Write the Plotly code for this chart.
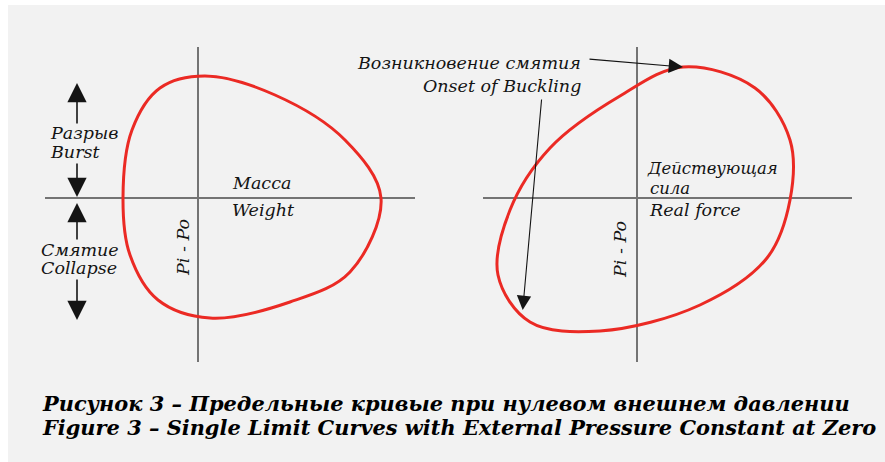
import plotly.graph_objects as go

# Limit curve, left panel: Pi - Po versus weight (closed loop, clockwise from the left side)
weight_x = [-0.75, -0.66, -0.38, 0.07, 0.77, 1.47, 1.83, 1.52, 0.92, 0.12, -0.40, -0.68]
weight_p = [0.00, 0.68, 1.10, 1.22, 1.03, 0.58, 0.00, -0.74, -1.04, -1.20, -1.02, -0.57]

# Limit curve, right panel: Pi - Po versus real (effective) force
force_x = [-0.87, -0.17, 0.46, 1.18, 1.53, 1.53, 1.30, 0.63, -0.37, -1.07, -1.39, -1.27]
force_p = [0.50, 1.02, 1.31, 1.10, 0.58, -0.02, -0.60, -1.07, -1.33, -1.24, -0.77, -0.12]
ONSET = 2  # index of the point where buckling begins

# Extent of the drawn coordinate cross in each panel
left_h = [-1.53, 2.17]
right_h = [-1.54, 2.15]
cross_v = [1.51, -1.64]

caption_ru = "Рисунок 3 – Предельные кривые при нулевом внешнем давлении"
caption_en = "Figure 3 – Single Limit Curves with External Pressure Constant at Zero"

RED = "#eb2a24"
AXIS = "#747474"
INK = "#141414"
SERIF = "DejaVu Serif"

fig = go.Figure()


def loop(seq):
    # close the loop back onto its first point
    seq = list(seq)
    return seq + seq[:1]


for xa, ya, hx, cx, cy in [("x", "y", left_h, weight_x, weight_p),
                           ("x2", "y2", right_h, force_x, force_p)]:
    fig.add_trace(go.Scatter(x=hx, y=[0, 0], mode="lines", xaxis=xa, yaxis=ya,
                             line=dict(color=AXIS, width=2), hoverinfo="skip"))
    fig.add_trace(go.Scatter(x=[0, 0], y=cross_v, mode="lines", xaxis=xa, yaxis=ya,
                             line=dict(color=AXIS, width=2), hoverinfo="skip"))
    fig.add_trace(go.Scatter(x=loop(cx), y=loop(cy), mode="lines", xaxis=xa, yaxis=ya,
                             line=dict(color=RED, width=3, shape="spline", smoothing=1.0),
                             hoverinfo="skip"))


def label(text, x, y, xref, yref, xanchor="left", angle=0, size=17.5):
    fig.add_annotation(text=text, x=x, y=y, xref=xref, yref=yref, showarrow=False,
                       xanchor=xanchor, yanchor="middle", textangle=angle,
                       font=dict(family=SERIF, size=size, color=INK, style="italic"))


def arrow(x0, y0, x1, y1, xref, yref, width=1.6, size=2.4):
    fig.add_annotation(text="", x=x1, y=y1, ax=x0, ay=y0, xref=xref, yref=yref,
                       axref=xref, ayref=yref, showarrow=True, arrowhead=2,
                       arrowsize=size, arrowwidth=width, arrowcolor=INK)


# Left panel labels and the burst / collapse arrows
label("Разрыв", -1.50, 0.65, "x", "y")
label("Burst", -1.50, 0.46, "x", "y")
label("Смятие", -1.59, -0.52, "x", "y")
label("Collapse", -1.59, -0.70, "x", "y")
label("Масса", 0.32, 0.15, "x", "y")
label("Weight", 0.32, -0.12, "x", "y")
label("Pi - Po", -0.15, -0.50, "x", "y", xanchor="center", angle=-90)
arrow(-1.21, 0.73, -1.21, 1.15, "x", "y")
arrow(-1.21, 0.36, -1.21, 0.01, "x", "y")
arrow(-1.21, -0.43, -1.21, -0.05, "x", "y")
arrow(-1.21, -0.80, -1.21, -1.22, "x", "y")

# Right panel labels and onset-of-buckling pointers
label("Действующая", 0.08, 0.30, "x2", "y2", size=16.5)
label("сила", 0.11, 0.10, "x2", "y2", size=16.5)
label("Real force", 0.10, -0.12, "x2", "y2")
label("Pi - Po", -0.17, -0.52, "x2", "y2", xanchor="center", angle=-90)
label("Возникновение смятия", -0.54, 1.35, "x2", "y2", xanchor="right")
label("Onset of Buckling", -0.54, 1.12, "x2", "y2", xanchor="right")
arrow(-0.49, 1.39, force_x[ONSET], force_p[ONSET], "x2", "y2", width=1.1, size=2.6)
arrow(-0.953, 1.00, -1.143, -1.12, "x2", "y2", width=1.1, size=2.6)

# Two-line caption
cap_font = dict(family=SERIF, size=20.9, color="#000000", style="italic", weight="bold")
for text, py in [(caption_ru, 403), (caption_en, 427)]:
    fig.add_annotation(text=text, x=40 / 885, y=1 - py / 462, xref="paper", yref="paper",
                       xanchor="left", yanchor="middle", showarrow=False, font=cap_font)

# Light grey backdrop
fig.add_shape(type="rect", xref="paper", yref="paper", x0=8 / 885, x1=1, y0=0,
              y1=1 - 5 / 462, fillcolor="#f2f2f2", line_width=0, layer="below")

ax_common = dict(visible=False, showgrid=False, zeroline=False, fixedrange=True)
fig.update_layout(
    width=885, height=462, margin=dict(l=0, r=0, t=0, b=0),
    paper_bgcolor="#ffffff", plot_bgcolor="rgba(0,0,0,0)", showlegend=False,
    xaxis=dict(domain=[0, 0.5], range=[-1.98, 2.445], **ax_common),
    yaxis=dict(domain=[0, 1], range=[-2.64, 1.98], **ax_common),
    xaxis2=dict(domain=[0.5, 1], range=[-1.945, 2.48], anchor="y2", **ax_common),
    yaxis2=dict(domain=[0, 1], range=[-2.64, 1.98], anchor="x2", **ax_common),
)

fig.write_html("out.html")
